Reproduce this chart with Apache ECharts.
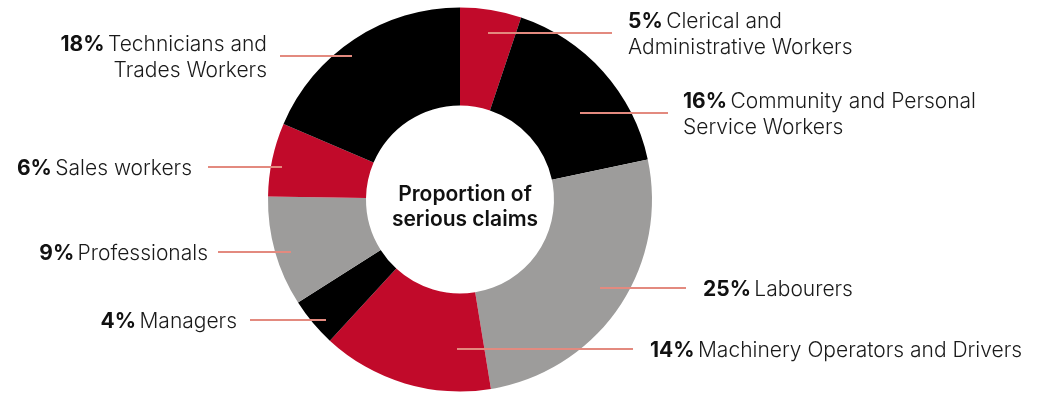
<!DOCTYPE html>
<html>
<head>
<meta charset="utf-8">
<script src="https://cdn.jsdelivr.net/npm/echarts@6/dist/echarts.min.js"></script>
<style>
  html, body { margin: 0; padding: 0; background: #ffffff; }
  #chart { width: 1053px; height: 394px; }
</style>
</head>
<body>
<div id="chart"></div>
<script>
// Occupation groups, clockwise from twelve o'clock
const categories = [
  'Clerical and\nAdministrative Workers',
  'Community and Personal\nService Workers',
  'Labourers',
  'Machinery Operators and Drivers',
  'Managers',
  'Professionals',
  'Sales workers',
  'Technicians and\nTrades Workers'
];
// Share of serious claims, %
const shares = [5, 16, 25, 14, 4, 9, 6, 18];
const sliceColors = ['#c10a2a', '#000000', '#9d9c9b', '#c10a2a', '#000000', '#9d9c9b', '#c10a2a', '#000000'];

// Leader line placement: y of the line, where it starts inside the ring,
// where it ends, and which side the text sits on
const leaderY     = [33, 113, 288, 349, 320, 252, 167, 56];
const leaderStart = [488, 580, 600, 457, 326, 291, 282, 352];
const leaderEnd   = [612, 668, 686, 633, 250, 218, 208, 280];
const textX       = [628, 683, 703, 650, 237, 208, 192, 267];
const textSide    = ['left', 'left', 'left', 'left', 'right', 'right', 'right', 'right'];

const FONT = 'Inter';
const LABEL_SIZE = 21;
const TEXT_NUDGE = 2;   // optical centring of the text on its leader line

const ring = {
  type: 'pie',
  center: [460, 199.5],
  radius: [94, 192],
  startAngle: 90,
  clockwise: true,
  avoidLabelOverlap: false,
  silent: true
};

const chart = echarts.init(document.getElementById('chart'));

chart.setOption({
  animation: false,
  title: {
    text: 'Proportion of\nserious claims',
    left: 460,
    top: 177,
    textAlign: 'center',
    textStyle: {
      fontFamily: FONT,
      fontWeight: 600,
      fontSize: 21,
      lineHeight: 25,
      color: '#111111'
    }
  },
  series: [
    // coloured slices
    Object.assign({}, ring, {
      z: 2,
      itemStyle: { borderWidth: 0 },
      label: { show: false },
      labelLine: { show: false },
      data: categories.map((name, i) => ({
        name: name,
        value: shares[i],
        itemStyle: { color: sliceColors[i] }
      }))
    }),
    // same ring, transparent, carrying the labels and leader lines above the slices
    Object.assign({}, ring, {
      z: 3,
      itemStyle: { color: 'rgba(0,0,0,0)', borderWidth: 0 },
      data: categories.map((name, i) => ({ name: name, value: shares[i] })),
      label: {
        show: true,
        position: 'outside',
        fontFamily: FONT,
        color: '#1a1a1a',
        formatter: (p) => {
          const lines = p.name.split('\n');
          return '{p|' + p.value + '%} ' + lines.map(l => '{n|' + l + '}').join('\n');
        },
        rich: {
          p: { fontFamily: FONT, fontWeight: 'bold', fontSize: LABEL_SIZE, lineHeight: 26, color: '#111111' },
          n: { fontFamily: FONT, fontWeight: 300, fontSize: LABEL_SIZE, lineHeight: 26, color: '#1a1a1a' }
        }
      },
      labelLine: {
        show: true,
        lineStyle: { color: '#e38a7f', width: 2 }
      },
      labelLayout: (params) => {
        const i = params.dataIndex;
        const y = leaderY[i];
        return {
          x: textX[i],
          y: y + TEXT_NUDGE,
          align: textSide[i],
          verticalAlign: 'middle',
          labelLinePoints: [[leaderStart[i], y], [leaderEnd[i], y], [leaderEnd[i], y]]
        };
      }
    })
  ]
});
</script>
</body>
</html>
